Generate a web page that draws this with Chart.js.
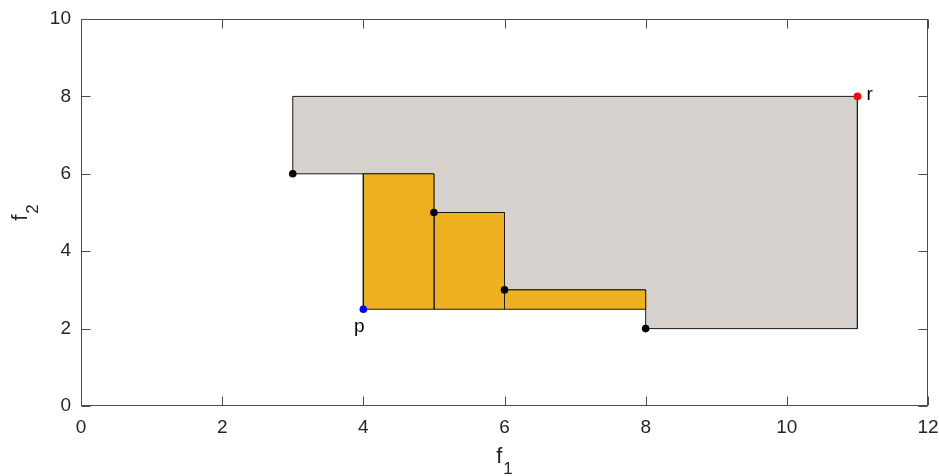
<!DOCTYPE html>
<html>
<head>
<meta charset="utf-8">
<script src="https://cdn.jsdelivr.net/npm/chart.js@4.4.0/dist/chart.umd.min.js"></script>
<style>
  html, body { margin: 0; padding: 0; background: #fff; }
  #wrap { width: 939px; height: 476px; }
</style>
</head>
<body>
<div id="wrap"><canvas id="chart" width="939" height="476"></canvas></div>
<script>
// Non-dominated front (f1, f2)
const frontX = [3, 5, 6, 8];
const frontY = [6, 5, 3, 2];
// reference point r and new point p
const refX = [11];
const refY = [8];
const pX = [4];
const pY = [2.5];
const xTicks = [0, 2, 4, 6, 8, 10, 12];
const yTicks = [0, 2, 4, 6, 8, 10];

const AXIS_COLOR = '#4d4d4d';
const TEXT_COLOR = '#262626';
const FONT = '"Liberation Sans", Arial, sans-serif';

// region dominated by the front and bounded by r (staircase polygon)
function dominatedRegion() {
    const n = frontX.length;
    const pts = [
        {x: frontX[0], y: refY[0]},
        {x: refX[0], y: refY[0]},
        {x: refX[0], y: frontY[n - 1]}
    ];
    for (let i = n - 1; i > 0; i--) {
        pts.push({x: frontX[i], y: frontY[i]});
        pts.push({x: frontX[i], y: frontY[i - 1]});
    }
    pts.push({x: frontX[0], y: frontY[0]});
    pts.push(pts[0]);
    return pts;
}

// boxes between p and the front (the part p would add)
function improvementBoxes() {
    const boxes = [];
    for (let i = 0; i < frontX.length - 1; i++) {
        if (frontY[i] <= pY[0] || frontX[i + 1] <= pX[0]) continue;
        const l = Math.max(frontX[i], pX[0]);
        const r = frontX[i + 1];
        const t = frontY[i];
        const b = pY[0];
        boxes.push([{x: l, y: b}, {x: r, y: b}, {x: r, y: t}, {x: l, y: t}, {x: l, y: b}]);
    }
    return boxes;
}

function shapeDataset(pts, color, order) {
    return {
        data: pts,
        showLine: true,
        fill: 'shape',
        backgroundColor: color,
        borderColor: '#1a1a1a',
        borderWidth: 1,
        pointRadius: 0,
        tension: 0,
        order: order
    };
}

function pointDataset(xs, ys, color, r) {
    return {
        data: xs.map((x, i) => ({x: x, y: ys[i]})),
        showLine: false,
        pointRadius: r,
        pointBackgroundColor: color,
        pointBorderColor: color,
        pointBorderWidth: 0,
        order: 0
    };
}

const datasets = [shapeDataset(dominatedRegion(), '#D6D1CC', 3)];
improvementBoxes().forEach(b => datasets.push(shapeDataset(b, '#EDB120', 2)));
datasets.push(pointDataset(frontX, frontY, '#000000', 3.8));
datasets.push(pointDataset(pX, pY, '#0000FF', 3.8));
datasets.push(pointDataset(refX, refY, '#FF0000', 3.8));

// frame, inward ticks, axis titles and point labels
const decorPlugin = {
    id: 'decor',
    afterDraw(chart) {
        const ctx = chart.ctx;
        const a = chart.chartArea;
        const sx = chart.scales.x;
        const sy = chart.scales.y;
        const L = Math.round(a.left) + 0.5, R = Math.round(a.right) - 0.5;
        const T = Math.round(a.top) + 0.5, B = Math.round(a.bottom) - 0.5;
        const tl = 9;

        ctx.save();
        ctx.strokeStyle = AXIS_COLOR;
        ctx.lineWidth = 1;
        ctx.strokeRect(L, T, R - L, B - T);
        ctx.beginPath();
        xTicks.forEach(v => {
            const x = Math.round(sx.getPixelForValue(v)) + 0.5;
            ctx.moveTo(x, B); ctx.lineTo(x, B - tl);
            ctx.moveTo(x, T); ctx.lineTo(x, T + tl);
        });
        yTicks.forEach(v => {
            const y = Math.round(sy.getPixelForValue(v)) + 0.5;
            ctx.moveTo(L, y); ctx.lineTo(L + tl, y);
            ctx.moveTo(R, y); ctx.lineTo(R - tl, y);
        });
        ctx.stroke();

        // axis titles with subscripts
        ctx.fillStyle = TEXT_COLOR;
        ctx.textBaseline = 'alphabetic';
        ctx.textAlign = 'left';
        const big = '22px ' + FONT, small = '17px ' + FONT;
        function subLabel(base, sub, cx, baseY) {
            ctx.font = big;
            const w1 = ctx.measureText(base).width;
            ctx.font = small;
            const w2 = ctx.measureText(sub).width;
            const x0 = cx - (w1 + 1 + w2) / 2;
            ctx.font = big;
            ctx.fillText(base, x0, baseY);
            ctx.font = small;
            ctx.fillText(sub, x0 + w1 + 1, baseY + 11);
        }
        subLabel('f', '1', (a.left + a.right) / 2, 463);
        ctx.save();
        ctx.translate(27, (a.top + a.bottom) / 2);
        ctx.rotate(-Math.PI / 2);
        subLabel('f', '2', 0, 0);
        ctx.restore();

        // point labels
        ctx.fillStyle = '#000';
        ctx.font = '19px ' + FONT;
        ctx.textAlign = 'center';
        ctx.fillText('p', sx.getPixelForValue(pX[0]) - 4, sy.getPixelForValue(pY[0]) + 23);
        ctx.textAlign = 'left';
        ctx.fillText('r', sx.getPixelForValue(refX[0]) + 9, sy.getPixelForValue(refY[0]) + 4);
        ctx.restore();
    }
};

new Chart(document.getElementById('chart'), {
    type: 'scatter',
    data: {datasets: datasets},
    options: {
        responsive: false,
        animation: false,
        layout: {padding: {top: 19, right: 11, left: 0, bottom: 0}},
        plugins: {
            legend: {display: false},
            tooltip: {enabled: false}
        },
        scales: {
            x: {
                type: 'linear',
                min: 0,
                max: 12,
                afterBuildTicks: s => { s.ticks = xTicks.map(v => ({value: v})); },
                afterFit: s => { s.height = 70; s.paddingLeft = 0; s.paddingRight = 0; },
                grid: {display: false, drawTicks: false},
                border: {display: false},
                ticks: {
                    color: TEXT_COLOR,
                    padding: 10,
                    maxRotation: 0,
                    font: {family: FONT, size: 19}
                }
            },
            y: {
                type: 'linear',
                min: 0,
                max: 10,
                afterBuildTicks: s => { s.ticks = yTicks.map(v => ({value: v})); },
                afterFit: s => { s.width = 81; s.paddingTop = 0; s.paddingBottom = 0; },
                grid: {display: false, drawTicks: false},
                border: {display: false},
                ticks: {
                    color: TEXT_COLOR,
                    padding: 10,
                    font: {family: FONT, size: 19}
                }
            }
        }
    },
    plugins: [decorPlugin]
});
</script>
</body>
</html>
